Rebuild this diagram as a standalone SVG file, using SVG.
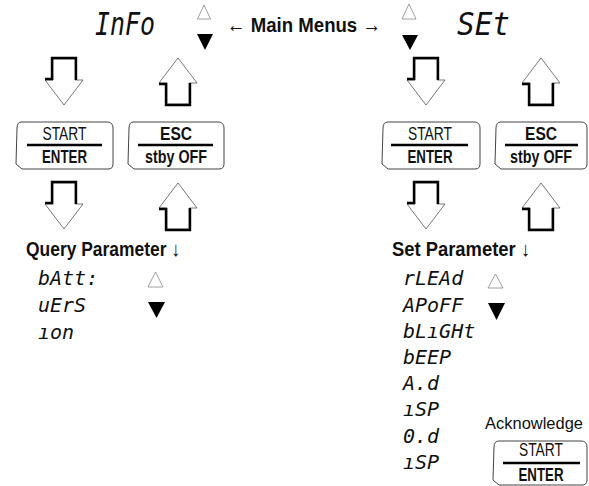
<svg xmlns="http://www.w3.org/2000/svg" width="589" height="486" viewBox="0 0 589 486">
<style>
.seg{font-family:"DejaVu Sans Mono","Liberation Mono",monospace;font-style:oblique;font-size:20px;fill:#111}
.title{font-family:"DejaVu Sans Mono","Liberation Mono",monospace;font-style:oblique;font-size:32px;fill:#111}
.lbl{font-family:"Liberation Sans Narrow","Liberation Sans",Arial,sans-serif;fill:#111}
.b{font-weight:bold}
.key{font-size:17.5px;text-anchor:middle}
.box{fill:#fff;stroke:#444;stroke-width:1}
.bar{stroke:#000;stroke-width:2.6}
.arr{fill:#fff;stroke:#555;stroke-width:0.8;stroke-linejoin:miter}
.sh{fill:none;stroke:#000;stroke-width:2.4;stroke-linejoin:miter}
.tri{fill:#fff;stroke:#888;stroke-width:0.8}
.trif{fill:#000}
</style>
<rect width="589" height="486" fill="#fff"/>

<g id="title-info"><text class="title" x="95" y="35" textLength="60" lengthAdjust="spacingAndGlyphs">InFo</text></g>
<g id="title-set"><text class="title" x="457" y="35" textLength="53" lengthAdjust="spacingAndGlyphs">SEt</text></g>
<g id="main-menus"><text class="lbl b" x="227" y="32" font-size="21" textLength="154" lengthAdjust="spacingAndGlyphs">← Main Menus →</text></g>

<g id="nav-main-left">
<polygon class="tri" points="204,5 210.5,19 197.5,19"/>
<polygon class="trif" points="197,34 213,34 205,50"/>
</g>
<g id="nav-main-right">
<polygon class="tri" points="409,4 416,19 402,19"/>
<polygon class="trif" points="402,35 418,35 410,50"/>
</g>

<g id="connectors">
<!-- down arrows -->
<polygon class="arr" points="53,59 75,59 75,80 83,80 64,105 45,80 53,80"/>
<polyline class="sh" points="45,79 52,79 52,58 76,58 76,80"/>
<polygon class="arr" points="53,183 75,183 75,204 83,204 64,229 45,204 53,204"/>
<polyline class="sh" points="45,203 52,203 52,182 76,182 76,204"/>
<polygon class="arr" points="415,59 437,59 437,80 445,80 426,105 407,80 415,80"/>
<polyline class="sh" points="407,79 414,79 414,58 438,58 438,80"/>
<polygon class="arr" points="415,183 437,183 437,204 445,204 426,229 407,204 415,204"/>
<polyline class="sh" points="407,203 414,203 414,182 438,182 438,204"/>
<!-- up arrows -->
<polygon class="arr" points="178,58 197,83 189,83 189,104 167,104 167,83 159,83"/>
<polyline class="sh" points="159,84 166,84 166,105 190,105 190,83"/>
<polygon class="arr" points="178,183 197,208 189,208 189,229 167,229 167,208 159,208"/>
<polyline class="sh" points="159,209 166,209 166,230 190,230 190,208"/>
<polygon class="arr" points="541,58 560,83 552,83 552,104 530,104 530,83 522,83"/>
<polyline class="sh" points="522,84 529,84 529,105 553,105 553,83"/>
<polygon class="arr" points="541,183 560,208 552,208 552,229 530,229 530,208 522,208"/>
<polyline class="sh" points="522,209 529,209 529,230 553,230 553,208"/>
</g>

<g id="key-start-left">
<path class="box" d="M22,122 H107 Q113,122 113,128 V164 Q113,169 108,169 H22 L16,164 L17,128 Q17,122 22,122 Z"/>
<line class="bar" x1="27" y1="145" x2="102" y2="145"/>
<text class="lbl key" x="64.5" y="140" textLength="44" lengthAdjust="spacingAndGlyphs">START</text>
<text class="lbl key b" x="64.5" y="163" textLength="45" lengthAdjust="spacingAndGlyphs">ENTER</text>
</g>
<g id="key-esc-left">
<path class="box" d="M134,122 H218 Q224,122 224,128 V164 Q224,169 219,169 H134 L128,164 L129,128 Q129,122 134,122 Z"/>
<line class="bar" x1="138" y1="145" x2="213" y2="145"/>
<text class="lbl key b" x="176" y="140" textLength="32" lengthAdjust="spacingAndGlyphs">ESC</text>
<text class="lbl key b" x="176" y="163" textLength="62" lengthAdjust="spacingAndGlyphs">stby OFF</text>
</g>
<g id="key-start-right">
<path class="box" d="M388,122 H474 Q480,122 480,128 V164 Q480,169 475,169 H388 L382,164 L383,128 Q383,122 388,122 Z"/>
<line class="bar" x1="391" y1="145" x2="468" y2="145"/>
<text class="lbl key" x="430" y="140" textLength="44" lengthAdjust="spacingAndGlyphs">START</text>
<text class="lbl key b" x="430" y="163" textLength="45" lengthAdjust="spacingAndGlyphs">ENTER</text>
</g>
<g id="key-esc-right">
<path class="box" d="M501,122 H581 Q587,122 587,128 V164 Q587,169 582,169 H501 L495,164 L496,128 Q496,122 501,122 Z"/>
<line class="bar" x1="505" y1="145" x2="578" y2="145"/>
<text class="lbl key b" x="541" y="140" textLength="32" lengthAdjust="spacingAndGlyphs">ESC</text>
<text class="lbl key b" x="541" y="163" textLength="62" lengthAdjust="spacingAndGlyphs">stby OFF</text>
</g>

<g id="query-parameter">
<text class="lbl b" x="26" y="256" font-size="20.5" textLength="154" lengthAdjust="spacingAndGlyphs">Query Parameter ↓</text>
<text class="seg" x="38" y="285">bAtt:</text>
<text class="seg" x="38" y="312">uErS</text>
<text class="seg" x="38" y="339">ıon</text>
<polygon class="tri" points="155.5,272 163,287 148,287"/>
<polygon class="trif" points="148,302 165,302 156.5,318"/>
</g>

<g id="set-parameter">
<text class="lbl b" x="392" y="256" font-size="20.5" textLength="138" lengthAdjust="spacingAndGlyphs">Set Parameter ↓</text>
<text class="seg" x="403" y="285">rLEAd</text>
<text class="seg" x="403" y="312">APoFF</text>
<text class="seg" x="403" y="338">bLıGHt</text>
<text class="seg" x="403" y="364">bEEP</text>
<text class="seg" x="403" y="390">A.d</text>
<text class="seg" x="403" y="416">ıSP</text>
<text class="seg" x="403" y="443">0.d</text>
<text class="seg" x="403" y="469">ıSP</text>
<polygon class="tri" points="495.5,274 503,288 488,288"/>
<polygon class="trif" points="488,303 505,303 496.5,320"/>
</g>

<g id="acknowledge">
<text class="lbl" x="485" y="429" font-size="17" textLength="98" lengthAdjust="spacingAndGlyphs">Acknowledge</text>
<path class="box" d="M499,441 H581 Q587,441 587,447 V480 Q587,485 582,485 H499 L493,480 L494,447 Q494,441 499,441 Z"/>
<line class="bar" x1="503" y1="463" x2="580" y2="463"/>
<text class="lbl key" x="541" y="456" textLength="44" lengthAdjust="spacingAndGlyphs">START</text>
<text class="lbl key b" x="541" y="481" textLength="45" lengthAdjust="spacingAndGlyphs">ENTER</text>
</g>
</svg>
